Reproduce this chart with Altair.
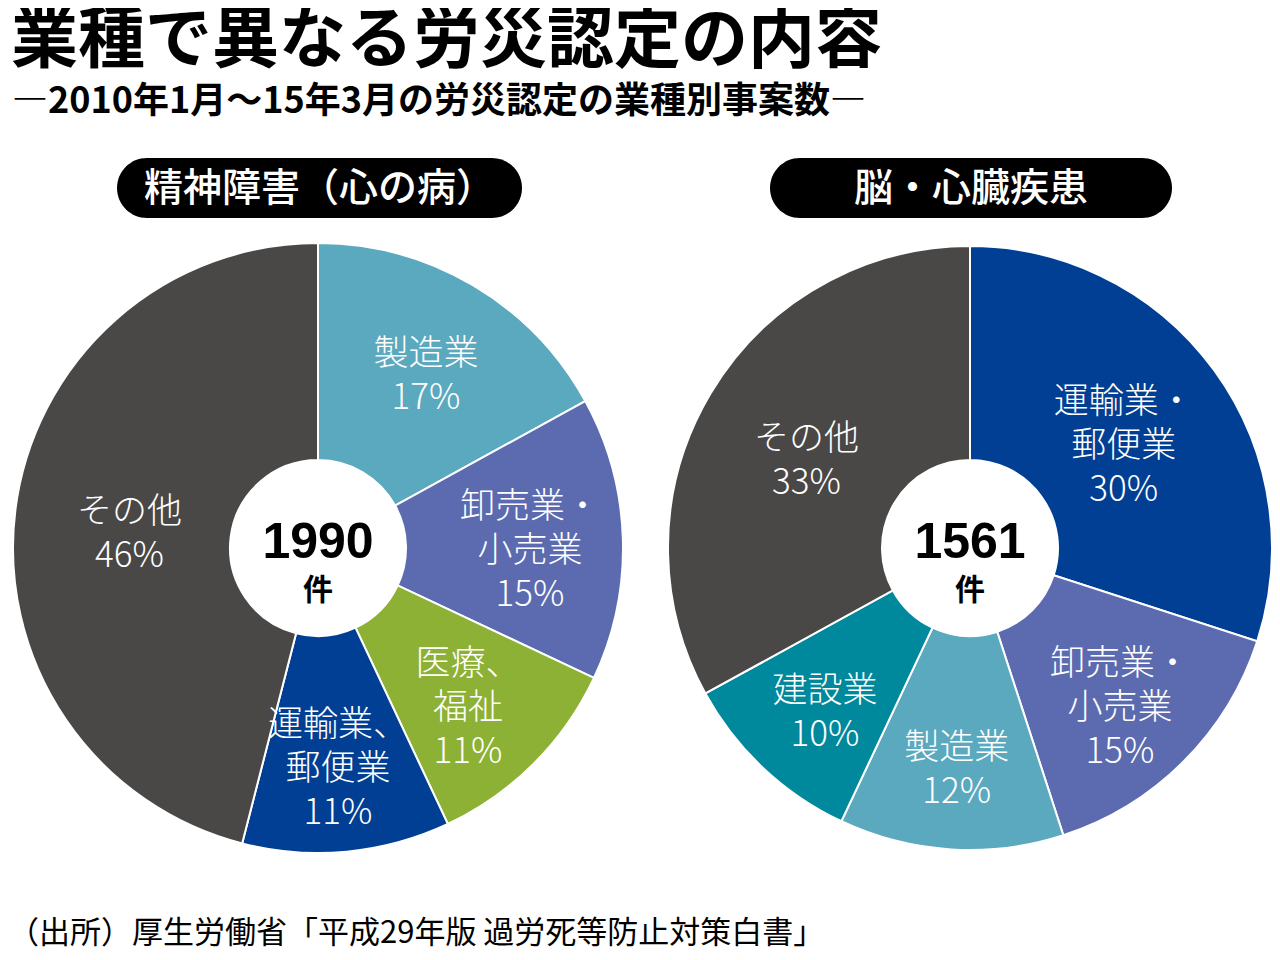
import math
import altair as alt
import pandas as pd

# ---- text ----
title_text = "業種で異なる労災認定の内容"
subtitle_text = "―2010年1月～15年3月の労災認定の業種別事案数―"
source_text = "（出所）厚生労働省「平成29年版 過労死等防止対策白書」"
panel_titles = ["精神障害（心の病）", "脳・心臓疾患"]
panel_totals = ["1990", "1561"]
count_unit = "件"

# ---- data ----
left_keys = ["manufacturing", "retail", "medical", "transport", "other"]
left_values = [17, 15, 11, 11, 46]
left_labels = ["製造業\n17%", "卸売業・\n小売業\n15%", "医療、\n福祉\n11%",
               "運輸業、\n郵便業\n11%", "その他\n46%"]

right_keys = ["transport", "retail", "manufacturing", "construction", "other"]
right_values = [30, 15, 12, 10, 33]
right_labels = ["運輸業・\n郵便業\n30%", "卸売業・\n小売業\n15%", "製造業\n12%",
                "建設業\n10%", "その他\n33%"]

sector_keys = ["manufacturing", "retail", "medical", "transport", "construction", "other"]
sector_colors = ["#5aa9be", "#5c6bb0", "#8db134", "#003f94", "#00889c", "#4a4846"]

rows = []
for pie, keys, vals, labels in [("left", left_keys, left_values, left_labels),
                                ("right", right_keys, right_values, right_labels)]:
    for i, (k, v, l) in enumerate(zip(keys, vals, labels)):
        rows.append(dict(pie=pie, sector=k, value=v, label=l, order=i))
df = pd.DataFrame(rows)

FONT = "Noto Sans CJK JP"
W, H = 1264, 944
centers = {"left": (310, 540, 305), "right": (962, 540, 302)}
color_scale = alt.Scale(domain=sector_keys, range=sector_colors)
theta_scale = alt.Scale(domain=[0, 1], range=[0, 2 * math.pi])
LH = 44


def pie_layers(pie, total):
    cx, cy, r = centers[pie]
    base = (alt.Chart(df)
            .transform_filter(alt.datum.pie == pie)
            .transform_joinaggregate(total="sum(value)")
            .transform_window(cum="sum(value)", sort=[alt.SortField("order")],
                              frame=[None, 0])
            .transform_calculate(
                t0="(datum.cum - datum.value) / datum.total",
                t1="datum.cum / datum.total",
                mid="(datum.cum - datum.value / 2) / datum.total",
                nlines="length(split(datum.label, '\\n'))"))
    arcs = base.mark_arc(outerRadius=r, innerRadius=88, stroke="white",
                         strokeWidth=2).encode(
        theta=alt.Theta("t0:Q", scale=theta_scale, stack=False),
        theta2="t1:Q",
        color=alt.Color("sector:N", scale=color_scale, legend=None),
        x=alt.value(cx), y=alt.value(cy),
    )
    layers = [arcs]
    for big, rad in [(False, 212), (True, 190)]:
        for n in (2, 3):
            cond = ("datum.value >= 30" if big else "datum.value < 30") + \
                f" && datum.nlines == {n}"
            layers.append(base.transform_filter(cond).mark_text(
                radius=rad, dy=-(n - 1) * LH / 2 + 10, font=FONT, fontSize=35,
                fontWeight=300,
                color="white", lineBreak="\n", lineHeight=LH, align="center",
                baseline="middle").encode(
                theta=alt.Theta("mid:Q", scale=theta_scale, stack=False),
                text="label:N",
                x=alt.value(cx), y=alt.value(cy),
            ))
    tdf = pd.DataFrame({"t": [total], "u": [count_unit]})
    num = alt.Chart(tdf).mark_text(font="Liberation Sans", fontSize=50,
                                   fontWeight="bold", color="black",
                                   align="center", baseline="middle").encode(
        text="t:N", x=alt.value(cx), y=alt.value(cy - 5))
    unit = alt.Chart(tdf).mark_text(font=FONT, fontSize=30, fontWeight="bold",
                                    color="black", align="center",
                                    baseline="middle").encode(
        text="u:N", x=alt.value(cx), y=alt.value(cy + 43))
    return layers + [num, unit]


def badge(text, x0, x1):
    bdf = pd.DataFrame({"t": [text]})
    box = alt.Chart(bdf).mark_rect(color="black", cornerRadius=30).encode(
        x=alt.value(x0), x2=alt.value(x1), y=alt.value(150), y2=alt.value(210))
    lab = alt.Chart(bdf).mark_text(font=FONT, fontSize=39, fontWeight=500,
                                   color="white", align="center",
                                   baseline="middle").encode(
        text="t:N", x=alt.value((x0 + x1) / 2), y=alt.value(181))
    return [box, lab]


def plain_text(text, x, y, size, weight="normal"):
    d = pd.DataFrame({"t": [text]})
    return alt.Chart(d).mark_text(font=FONT, fontSize=size, fontWeight=weight,
                                  color="black", align="left",
                                  baseline="middle").encode(
        text="t:N", x=alt.value(x), y=alt.value(y))


layers = []
layers.append(plain_text(title_text, 3, 34, 67, "bold"))
layers.append(plain_text(subtitle_text, 4, 94, 36, "bold"))
layers += badge(panel_titles[0], 109, 514)
layers += badge(panel_titles[1], 762, 1164)
layers += pie_layers("left", panel_totals[0])
layers += pie_layers("right", panel_totals[1])
layers.append(plain_text(source_text, 0, 926, 31))

chart = alt.layer(*layers).properties(
    width=W, height=H, autosize=alt.AutoSizeParams(type="none"), padding=0
).configure_view(stroke=None)

chart.save("out.html", embed_options={"renderer": "svg", "actions": False})
